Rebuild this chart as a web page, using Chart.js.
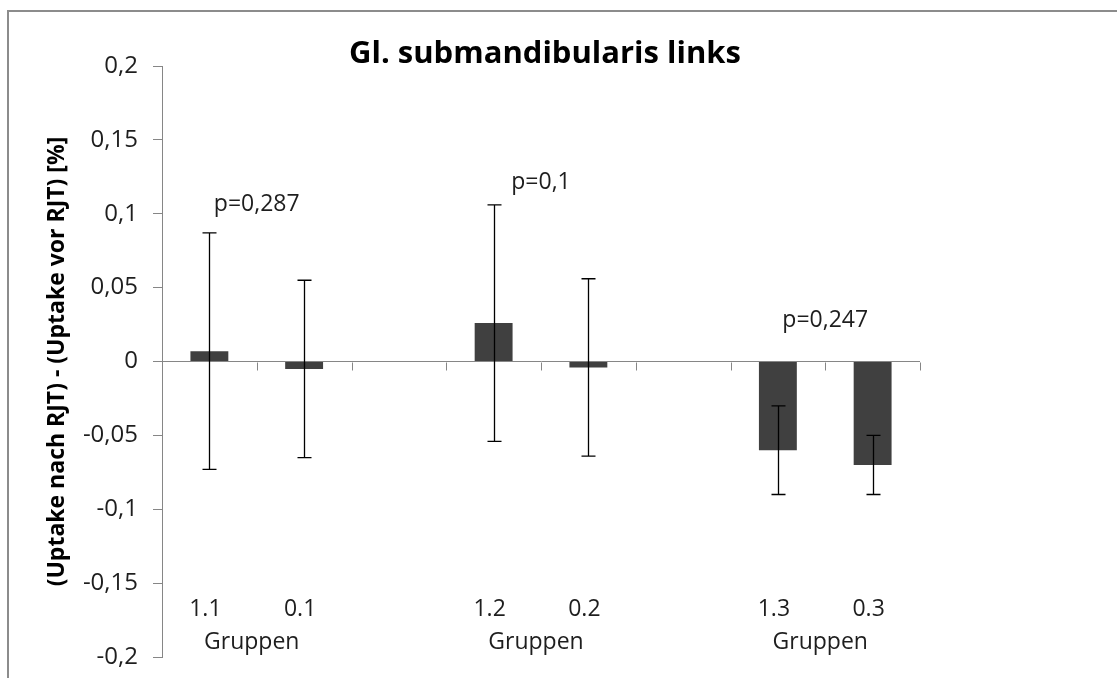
<!DOCTYPE html>
<html>
<head>
<meta charset="utf-8">
<script src="https://cdn.jsdelivr.net/npm/chart.js@4"></script>
<style>
  html, body { margin: 0; padding: 0; background: #fff; }
  #wrap { width: 1117px; height: 678px; position: relative; }
</style>
</head>
<body>
<div id="wrap"><canvas id="c" width="1117" height="678"></canvas></div>
<script>
// ---- data ----
const categories = ['1.1', '0.1', '', '1.2', '0.2', '', '1.3', '0.3'];
const means      = [0.007, -0.005, null, 0.026, -0.004, null, -0.060, -0.070];
const errors     = [0.080, 0.060, null, 0.080, 0.060, null, 0.030, 0.020];
const groupLabel = 'Gruppen';
const groupPairs = [[0, 1], [3, 4], [6, 7]];
const pValues    = ['p=0,287', 'p=0,1', 'p=0,247'];
const pValueY    = [0.106, 0.1215, 0.028];   // label anchor heights (data units)
const yTicks     = { min: -0.2, max: 0.2, step: 0.05 };
const titleText  = 'Gl. submandibularis links';
const yTitleText = '(Uptake nach RJT) - (Uptake vor RJT) [%]';

const FONT = "'Open Sans', sans-serif";
const AXIS_GRAY = '#868686';
const TEXT = '#1e1e1e';

const fmt = v => {
  const r = Math.round(v * 100) / 100;
  if (Math.abs(r) < 1e-9) return '0';
  return String(r).replace('.', ',');
};

const decorPlugin = {
  id: 'decor',
  beforeDraw(chart) {
    const ctx = chart.ctx;
    ctx.save();
    ctx.fillStyle = '#fff';
    ctx.fillRect(0, 0, chart.width, chart.height);
    // frame (top + left visible)
    ctx.strokeStyle = '#8c8c8c';
    ctx.lineWidth = 2;
    ctx.beginPath();
    ctx.moveTo(8, chart.height + 2);
    ctx.lineTo(8, 11);
    ctx.lineTo(chart.width + 2, 11);
    ctx.stroke();
    ctx.restore();
  },
  afterDatasetsDraw(chart) {
    const ctx = chart.ctx;
    const x = chart.scales.x, y = chart.scales.y;
    const area = chart.chartArea;
    const meta = chart.getDatasetMeta(0);
    ctx.save();
    // category boundary ticks on zero line
    const y0 = Math.round(y.getPixelForValue(0)) + 0.5;
    const n = categories.length;
    const w = (area.right - area.left) / n;
    ctx.strokeStyle = AXIS_GRAY;
    ctx.lineWidth = 1;
    ctx.beginPath();
    for (let i = 1; i <= n; i++) {
      const px = Math.round(area.left + i * w) + 0.5;
      ctx.moveTo(px, y0);
      ctx.lineTo(px, y0 + 8);
    }
    ctx.stroke();
    // error bars
    ctx.strokeStyle = '#000';
    ctx.lineWidth = 1.3;
    means.forEach((m, i) => {
      if (m === null) return;
      const px = Math.round(meta.data[i].x) + 0.5;
      const top = y.getPixelForValue(m + errors[i]);
      const bot = y.getPixelForValue(m - errors[i]);
      ctx.beginPath();
      ctx.moveTo(px, top); ctx.lineTo(px, bot);
      ctx.moveTo(px - 7, top); ctx.lineTo(px + 7, top);
      ctx.moveTo(px - 7, bot); ctx.lineTo(px + 7, bot);
      ctx.stroke();
    });
    // category labels & group labels
    ctx.fillStyle = TEXT;
    ctx.textAlign = 'center';
    ctx.textBaseline = 'middle';
    ctx.font = '23px ' + FONT;
    categories.forEach((c, i) => {
      if (!c) return;
      ctx.fillText(c, x.getPixelForValue(i) - 4, area.bottom - 48);
    });
    groupPairs.forEach((p, gi) => {
      const cx = (x.getPixelForValue(p[0]) + x.getPixelForValue(p[1])) / 2;
      ctx.fillText(groupLabel, cx - 5, area.bottom - 15);
      ctx.fillText(pValues[gi], cx, y.getPixelForValue(pValueY[gi]));
    });
    // title
    ctx.font = 'bold 31px ' + FONT;
    ctx.textBaseline = 'alphabetic';
    ctx.fillStyle = '#000';
    ctx.fillText(titleText, 545, 63);
    ctx.restore();
  }
};

new Chart(document.getElementById('c'), {
  type: 'bar',
  data: {
    labels: categories,
    datasets: [{
      data: means,
      backgroundColor: '#404040',
      borderWidth: 0,
      categoryPercentage: 1.0,
      barPercentage: 0.4
    }]
  },
  options: {
    responsive: false,
    animation: false,
    events: [],
    layout: { padding: { left: 0, top: 66, right: 197, bottom: 21 } },
    plugins: { legend: { display: false }, tooltip: { enabled: false }, title: { display: false } },
    scales: {
      x: { display: false, offset: true },
      y: {
        min: yTicks.min, max: yTicks.max,
        afterFit(scale) { scale.width = 162; scale.paddingTop = 0; scale.paddingBottom = 0; },
        border: { display: true, color: AXIS_GRAY, width: 1 },
        grid: {
          drawOnChartArea: true,
          drawTicks: true,
          tickLength: 9,
          tickColor: AXIS_GRAY,
          color: ctx => (ctx.tick && Math.abs(ctx.tick.value) < 1e-9) ? AXIS_GRAY : 'rgba(0,0,0,0)'
        },
        ticks: {
          stepSize: yTicks.step,
          padding: 15,
          color: TEXT,
          font: { family: FONT, size: 24 },
          callback: v => fmt(v)
        },
        title: {
          display: true,
          text: yTitleText,
          color: '#000',
          font: { family: FONT, size: 23, weight: 'bold' },
          padding: { top: 44, bottom: 0 }
        }
      }
    }
  },
  plugins: [decorPlugin]
});
</script>
</body>
</html>
